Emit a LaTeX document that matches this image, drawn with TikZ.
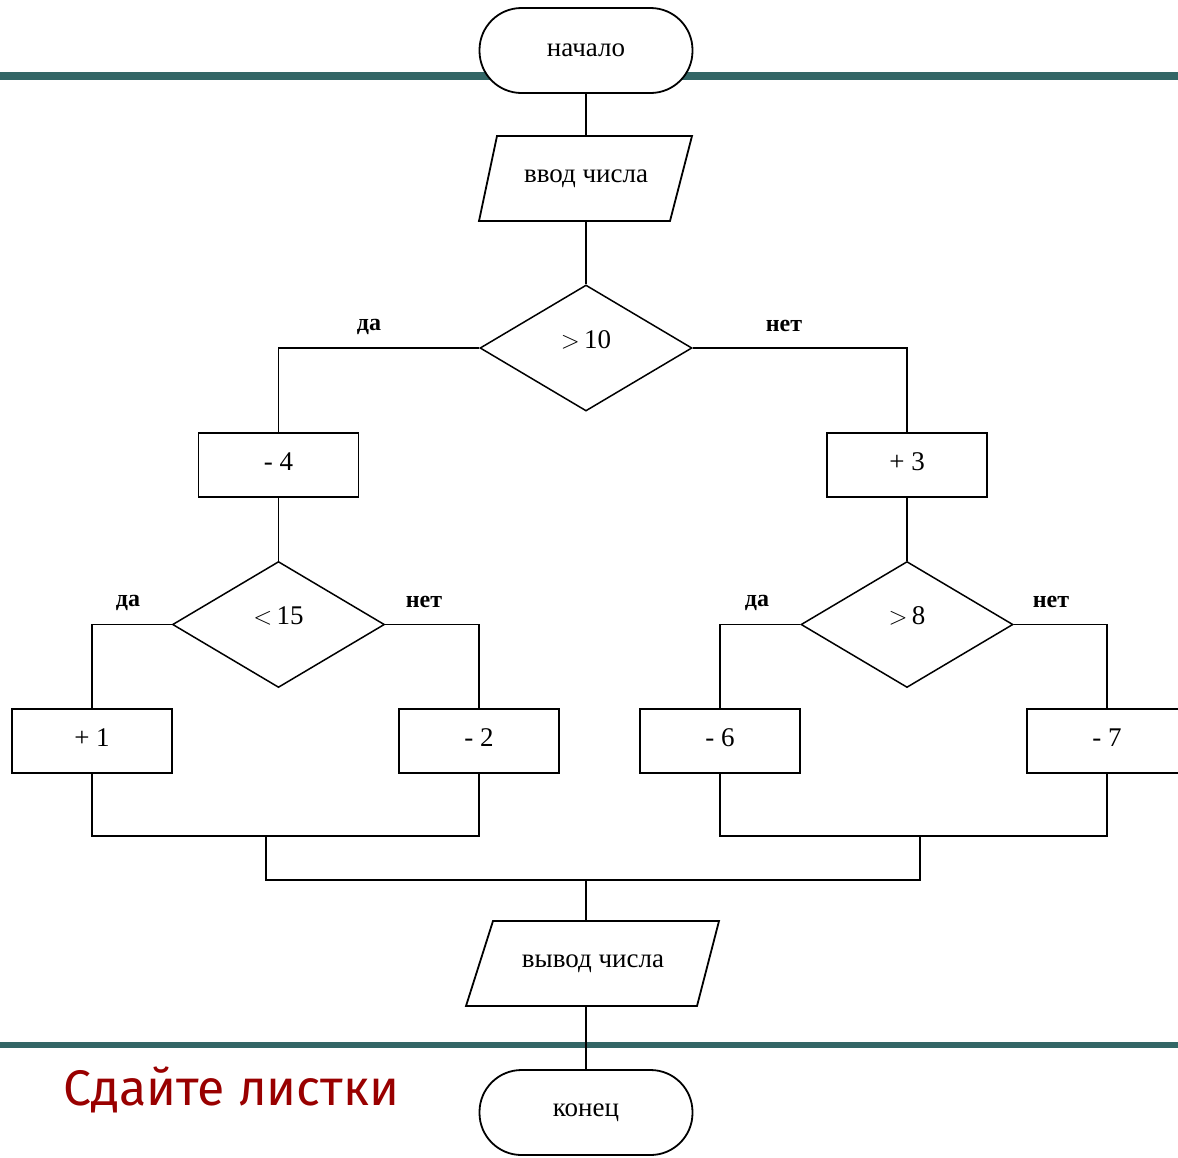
\documentclass[tikz,border=0pt]{standalone}
\usepackage{fontspec}
\setmainfont{Liberation Serif}
\newfontfamily\notefont{Fira Sans}
\usetikzlibrary{shapes.geometric,calc}
\definecolor{barteal}{RGB}{51,102,102}
\definecolor{notered}{RGB}{153,0,0}
\begin{document}
\begin{tikzpicture}[x=1pt,y=-1pt,
  flow/.style={draw=black, line width=1.5pt},
  term/.style={draw, line width=1.8pt, fill=white, rounded corners=42pt,
    minimum width=213pt, minimum height=85pt, inner sep=0pt,
    font=\fontsize{27}{30}\selectfont},
  iobox/.style={minimum width=190pt, minimum height=85pt, inner sep=0pt,
    font=\fontsize{27}{30}\selectfont},
  procbox/.style={draw, line width=1.8pt, minimum width=160pt, minimum height=64pt,
    inner sep=0pt, text height=18pt, text depth=8pt,
    font=\fontsize{27}{30}\selectfont},
  decbox/.style={draw, diamond, line width=1.5pt, minimum width=212pt, minimum height=126pt,
    inner sep=0pt, text height=10pt, text depth=10pt,
    font=\fontsize{27}{30}\selectfont},
  lbl/.style={font=\bfseries\fontsize{24}{28}\selectfont, inner sep=0pt}
]
\useasboundingbox (0,0) rectangle (1178,1157);
\fill[white] (0,0) rectangle (1178,1157);
% teal bars
\fill[barteal] (0,72) rectangle (1178,80);
\fill[barteal] (0,1042) rectangle (1178,1048);

% nodes
\node[term] (start) at (586,50.5) {начало};
\node[iobox] (in) at (586,178.5) {ввод числа};
\draw[line width=1.8pt] (497,136) -- (692,136) -- (670,221) -- (479,221) -- cycle;
\node[decbox] (d1) at (586,348) {$>$\,10};
\node[procbox] (p1) at (278.5,465) {- 4};
\node[procbox] (p2) at (907,465) {+ 3};
\node[decbox] (d2) at (278.5,624.5) {$<$\,15};
\node[decbox] (d3) at (907,624.5) {$>$\,8};
\node[procbox] (b1) at (92,741) {+ 1};
\node[procbox] (b2) at (479,741) {- 2};
\node[procbox] (b3) at (720,741) {- 6};
\node[procbox] (b4) at (1107,741) {- 7};
\node[iobox] (out) at (593,963.5) {вывод числа};
\draw[line width=1.8pt] (493,921) -- (719,921) -- (697,1006) -- (466,1006) -- cycle;
\node[term] (end) at (586,1112.5) {конец};

% labels
\node[lbl] (l1) at (369,327) {да};
\node[lbl] (l2) at (784,326) {нет};
\node[lbl] (l3) at (128,603) {да};
\node[lbl] (l4) at (424,602) {нет};
\node[lbl] (l5) at (757,603) {да};
\node[lbl] (l6) at (1051,602) {нет};

% junction coordinates
\coordinate (ml) at (266,836);
\coordinate (mr) at (920,836);
\coordinate (mj) at (586,880);

% connectors
\draw[flow] (start.south) -- (in.north);
\draw[flow] (in.south) -- (d1.north);
\draw[flow] (d1.west) -| (p1.north);
\draw[flow] (d1.east) -| (p2.north);
\draw[flow] (p1.south) -- (d2.north);
\draw[flow] (p2.south) -- (d3.north);
\draw[flow] (d2.west) -| (b1.north);
\draw[flow] (d2.east) -| (b2.north);
\draw[flow] (d3.west) -| (b3.north);
\draw[flow] (d3.east) -| (b4.north);
\draw[flow] (b1.south) |- (ml) -| (b2.south);
\draw[flow] (b3.south) |- (mr) -| (b4.south);
\draw[flow] (ml) |- (mj) -| (mr);
\draw[flow] (mj) -- (mj |- out.north);
\draw[flow] (out.south -| mj) -- (end.north);

% note
\node[anchor=base west, inner sep=0pt, text=notered, font=\notefont\fontsize{50}{54}\selectfont] (note) at (63,1105) {Сдайте листки};
\end{tikzpicture}
\end{document}
